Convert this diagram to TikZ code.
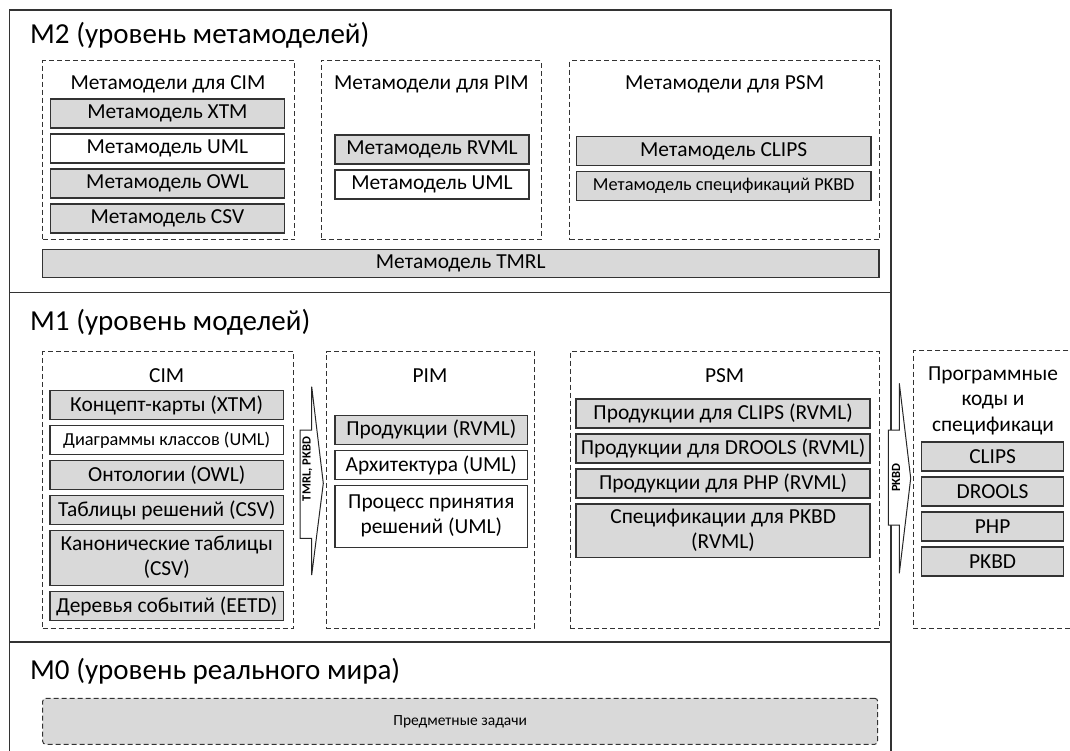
\documentclass[tikz,border=0pt]{standalone}
\usepackage{fontspec}
\setmainfont{Carlito}
\usetikzlibrary{positioning, fit}

\newcommand{\titlefont}{\fontsize{29}{34}\selectfont}
\newcommand{\boxfont}{\fontsize{21.4}{25}\selectfont}
\newcommand{\smallfont}{\fontsize{18.3}{22}\selectfont}
\newcommand{\taskfont}{\fontsize{15.5}{19}\selectfont}
\newcommand{\flowfont}{\fontsize{12.5}{15}\selectfont\bfseries}
\newcommand{\twolines}[2]{\begin{tabular}{@{}c@{}}#1\\#2\end{tabular}}

\tikzstyle{layer} = [rectangle, draw=black!80, line width=1.4pt, inner sep=0pt]
\tikzstyle{leveltitle} = [anchor=west, inner sep=0pt, font=\titlefont]
\tikzstyle{group} = [rectangle, draw=black!80, line width=1pt, dash pattern=on 5pt off 3pt, inner sep=0pt]
\tikzstyle{caption} = [inner sep=0pt, font=\boxfont, align=center]
\tikzstyle{item} = [rectangle, draw=black!80, line width=1.3pt, fill=gray!30, text centered, minimum height=29pt, inner sep=0pt, outer sep=0pt, font=\boxfont]
\tikzstyle{blank} = [item, fill=white]
\tikzstyle{flow} = [draw=black!85, line width=1pt, fill=white, line join=miter]
\tikzstyle{flowlabel} = [rotate=90, inner sep=0pt, font=\flowfont]

\begin{document}
\begin{tikzpicture}[x=1pt, y=-1pt, node distance=6pt]

	\useasboundingbox (0,0) rectangle (1070,751);
	\clip (0,0) rectangle (1070,751);

	% Levels
	\node (m2) [layer, fit={(9.3,10) (890.8,292.7)}] {};
	\node (m1) [layer, fit={(9.3,292.7) (890.8,642)}] {};
	\node (m0) [layer, fit={(9.3,642) (890.8,800)}] {};

	\node (m2_title) [leveltitle] at (30,35) {M2 (уровень метамоделей)};
	\node (m1_title) [leveltitle] at (30,322) {M1 (уровень моделей)};
	\node (m0_title) [leveltitle] at (30,671) {M0 (уровень реального мира)};

	% M2: metamodels for CIM
	\node (meta_cim) [group, fit={(42.5,60.7) (294.4,240)}] {};
	\node (meta_cim_cap) [caption] at (168,84) {Метамодели для CIM};
	\node (meta_xtm) [item, minimum width=234pt] at (167.4,113.5) {Метамодель XTM};
	\node (meta_uml) [blank, minimum width=234pt, below=of meta_xtm] {Метамодель UML};
	\node (meta_owl) [item, minimum width=234pt, below=of meta_uml] {Метамодель OWL};
	\node (meta_csv) [item, minimum width=234pt, below=of meta_owl] {Метамодель CSV};

	% M2: metamodels for PIM
	\node (meta_pim) [group, fit={(321,60.7) (541,240)}] {};
	\node (meta_pim_cap) [caption] at (431.4,84) {Метамодели для PIM};
	\node (meta_rvml) [item, minimum width=194pt] at (432,149.5) {Метамодель RVML};
	\node (meta_uml2) [blank, minimum width=194pt, below=of meta_rvml] {Метамодель UML};

	% M2: metamodels for PSM
	\node (meta_psm) [group, fit={(569.6,60.7) (879.5,240)}] {};
	\node (meta_psm_cap) [caption] at (724.6,84) {Метамодели для PSM};
	\node (meta_clips) [item, minimum width=294.5pt] at (723.7,151.2) {Метамодель CLIPS};
	\node (meta_pkbd) [item, minimum width=294.5pt, font=\smallfont, below=of meta_clips] {Метамодель спецификаций PKBD};

	\node (meta_tmrl) [item, minimum width=836.5pt, minimum height=28.4pt] at (460.75,263.5) {Метамодель TMRL};

	% M1: CIM
	\node (cim) [group, fit={(42.7,351.7) (293.3,628.3)}] {};
	\node (cim_cap) [caption] at (166.7,376) {CIM};
	\node (cim_xtm) [item, minimum width=233.4pt] at (166.7,405.2) {Концепт-карты (XTM)};
	\node (cim_uml) [blank, minimum width=233.4pt, font=\smallfont, below=of cim_xtm] {Диаграммы классов (UML)};
	\node (cim_owl) [item, minimum width=233.4pt, below=of cim_uml] {Онтологии (OWL)};
	\node (cim_csv) [item, minimum width=233.4pt, below=of cim_owl] {Таблицы решений (CSV)};
	\node (cim_canon) [item, minimum width=233.4pt, minimum height=55pt, below=of cim_csv] {\twolines{Канонические таблицы}{(CSV)}};
	\node (cim_eetd) [item, minimum width=233.4pt, below=of cim_canon] {Деревья событий (EETD)};

	% M1: PIM
	\node (pim) [group, fit={(326,351.7) (534,628.3)}] {};
	\node (pim_cap) [caption] at (430,376) {PIM};
	\node (pim_rvml) [item, minimum width=192.6pt] at (431.3,429.9) {Продукции (RVML)};
	\node (pim_arch) [blank, minimum width=192.6pt, below=of pim_rvml] {Архитектура (UML)};
	\node (pim_proc) [blank, minimum width=192.6pt, minimum height=62pt, below=of pim_arch] {\twolines{Процесс принятия}{решений (UML)}};

	% M1: PSM
	\node (psm) [group, fit={(570,351.7) (879.3,628.3)}] {};
	\node (psm_cap) [caption] at (724.6,376) {PSM};
	\node (psm_clips) [item, minimum width=294pt] at (723.1,413.4) {Продукции для CLIPS (RVML)};
	\node (psm_drools) [item, minimum width=294pt, below=of psm_clips] {Продукции для DROOLS (RVML)};
	\node (psm_php) [item, minimum width=294pt, below=of psm_drools] {Продукции для PHP (RVML)};
	\node (psm_pkbd) [item, minimum width=294pt, minimum height=53.3pt, below=of psm_php] {\twolines{Спецификации для PKBD}{(RVML)}};

	% Program codes
	\node (code) [group, fit={(913.3,350.7) (1120,628.3)}] {};
	\node (code_cap) [caption, font=\fontsize{21.4}{25.5}\selectfont] at (993,400.5) {Программные\\коды и\\спецификаци};
	\node (code_clips) [item, minimum width=141.8pt] at (992.6,456.4) {CLIPS};
	\node (code_drools) [item, minimum width=141.8pt, below=of code_clips] {DROOLS};
	\node (code_php) [item, minimum width=141.8pt, below=of code_drools] {PHP};
	\node (code_pkbd) [item, minimum width=141.8pt, below=of code_php] {PKBD};

	% Transformations
	\draw[flow] (300,430) -- (311.7,430) -- (311.7,386.7) -- (323.3,483.3) -- (311.7,575) -- (311.7,538.3) -- (300,538.3) -- cycle;
	\node (cim2pim) [flowlabel] at (307.5,469) {TMRL, PKBD};
	\draw[flow] (888.3,430) -- (899.3,430) -- (899.3,383.3) -- (910.7,478.3) -- (899.3,573.3) -- (899.3,525) -- (888.3,525) -- cycle;
	\node (psm2code) [flowlabel] at (896,477.5) {PKBD};

	% M0
	\node (tasks) [group, fill=gray!30, rounded corners=3pt, minimum width=835pt, minimum height=46pt, font=\taskfont] at (460.2,721.3) {Предметные задачи};

\end{tikzpicture}
\end{document}
